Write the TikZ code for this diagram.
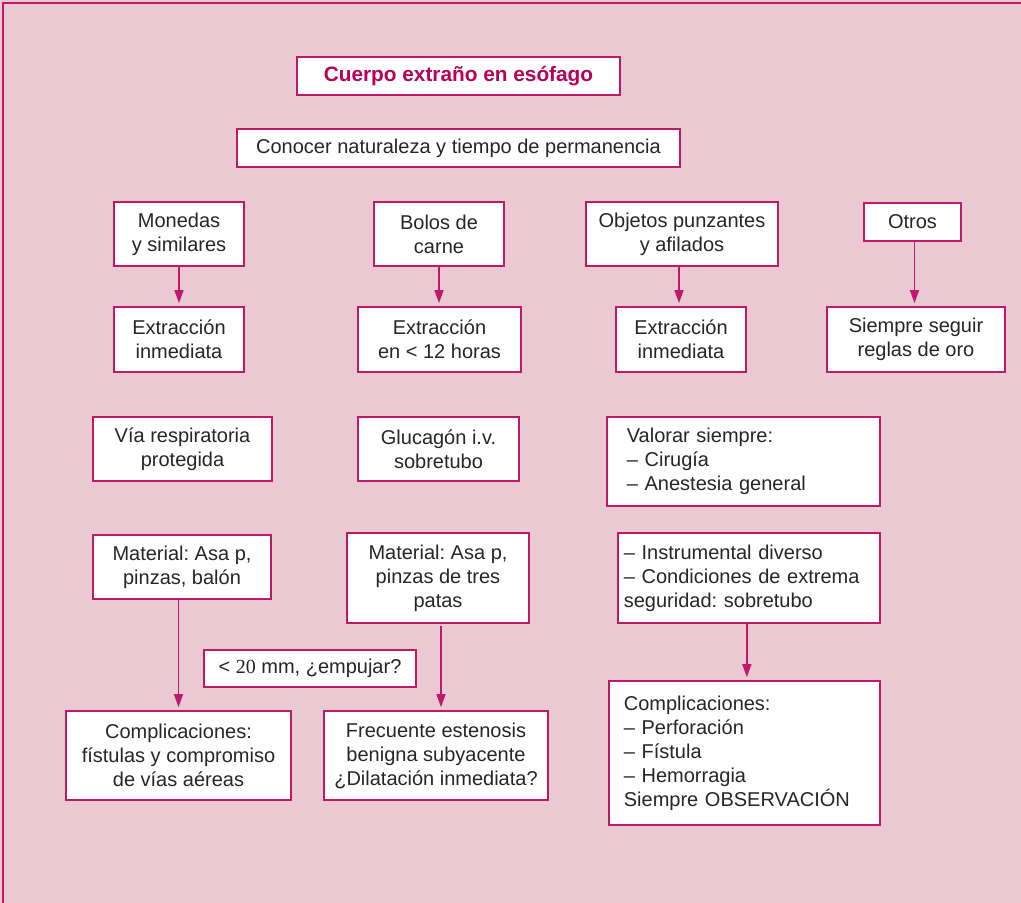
\documentclass[tikz,border=0pt]{standalone}
\usepackage{fontspec}
\setmainfont{Liberation Sans}
\newfontfamily\serifnum{Liberation Serif}
\usetikzlibrary{arrows.meta}
\definecolor{bgpink}{HTML}{EBC9D3}
\definecolor{mag}{HTML}{C2186A}
\definecolor{titlemag}{HTML}{B8005C}
\definecolor{txt}{HTML}{262626}
\frenchspacing
\begin{document}
\begin{tikzpicture}[x=1pt,y=-1pt,
  bx/.style={draw=mag, line width=1.7pt, fill=white, inner sep=0pt, align=center,
    text=txt, font=\fontsize{20}{24}\selectfont\frenchspacing},
  lbx/.style={bx, align=left, anchor=west},
  arr/.style={draw=mag, line width=1.6pt, -{Triangle[width=9pt,length=13pt]}, shorten >=3pt}]
\useasboundingbox (0,0) rectangle (1021,903);
\fill[bgpink] (0,0) rectangle (1021,903);
\draw[mag, line width=2pt] (3,903) -- (3,3) -- (1021,3);

\node[bx, minimum width=323pt, minimum height=38pt, text=titlemag, font=\fontsize{20.8}{24}\selectfont\bfseries] (title) at (458.5,76) {Cuerpo extraño en esófago};
\node[bx, minimum width=443pt, minimum height=38pt] (con) at (458.5,148) {Conocer naturaleza y tiempo de permanencia};

\node[bx, minimum width=130pt, minimum height=64pt] (mon) at (179,234) {Monedas\\y similares};
\node[bx, minimum width=130pt, minimum height=64pt] (bol) at (439,234) {Bolos de\\carne};
\node[bx, minimum width=192pt, minimum height=64pt] (obj) at (682,234) {Objetos punzantes\\y afilados};
\node[bx, minimum width=97pt, minimum height=38pt] (otr) at (912.5,222) {Otros};

\node[bx, minimum width=130pt, minimum height=65pt] (ex1) at (179,339.5) {Extracción\\inmediata};
\node[bx, minimum width=163pt, minimum height=65pt] (ex2) at (439.5,339.5) {Extracción\\en < 12 horas};
\node[bx, minimum width=130pt, minimum height=65pt] (ex3) at (681,339.5) {Extracción\\inmediata};
\node[bx, minimum width=178pt, minimum height=65pt] (sie) at (916,339.5) {Siempre seguir\\reglas de oro};

\node[bx, minimum width=179pt, minimum height=64pt] (via) at (182.5,449) {Vía respiratoria\\protegida};
\node[bx, minimum width=161pt, minimum height=64pt] (glu) at (438.5,449) {Glucagón i.v.\\sobretubo};
\node[lbx, minimum height=89pt, inner xsep=20pt, text width=233pt] (val) at (606,461.5) {Valorar siempre:\\– Cirugía\\– Anestesia general};

\node[bx, minimum width=178pt, minimum height=64pt] (matL) at (182,567) {Material: Asa p,\\pinzas, balón};
\node[bx, minimum width=182pt, minimum height=90pt] (matR) at (438,578) {Material: Asa p,\\pinzas de tres\\patas};
\node[lbx, minimum height=90pt, inner xsep=6pt, text width=250pt] (ins) at (617,578) {– Instrumental diverso\\– Condiciones de extrema\\seguridad: sobretubo};

\node[bx, minimum width=212pt, minimum height=37pt] (mm) at (310,668.5) {< {\serifnum 20} mm, ¿empujar?};

\node[bx, minimum width=225pt, minimum height=89pt] (comL) at (178.5,755.5) {Complicaciones:\\fístulas y compromiso\\de vías aéreas};
\node[bx, minimum width=224pt, minimum height=89pt] (fre) at (436,755.5) {Frecuente estenosis\\benigna subyacente\\¿Dilatación inmediata?};
\node[lbx, minimum height=144pt, inner xsep=15pt, text width=241pt] (com3) at (608,753) {Complicaciones:\\– Perforación\\– Fístula\\– Hemorragia\\Siempre OBSERVACIÓN};

\draw[arr] (mon.south) -- (mon.south |- ex1.north);
\draw[arr] (bol.south) -- (bol.south |- ex2.north);
\draw[arr] ([xshift=-3pt]obj.south) -- ([xshift=-3pt]obj.south |- ex3.north);
\draw[arr] ([xshift=2pt]otr.south) -- ([xshift=2pt]otr.south |- sie.north);
\draw[arr] (comL.north |- matL.south) -- (comL.north);
\draw[arr, shorten <=2pt] ([xshift=3pt]matR.south) -- ([xshift=3pt]matR.south |- fre.north);
\draw[arr] ([xshift=-2pt]ins.south) -- ([xshift=-2pt]ins.south |- com3.north);
\end{tikzpicture}
\end{document}
